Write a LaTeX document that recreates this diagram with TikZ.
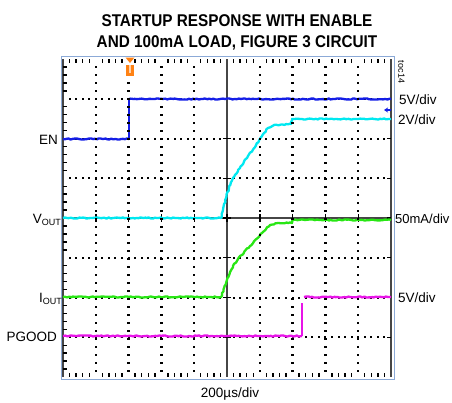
\documentclass[tikz,border=0pt]{standalone}
\usepackage{fontspec}
\setmainfont{Liberation Sans}
\newfontfamily\titlefont[FakeStretch=0.9]{Liberation Sans}
\usetikzlibrary{decorations.pathmorphing,arrows.meta}

\definecolor{enblue}{RGB}{20,30,230}
\definecolor{voutcyan}{RGB}{0,232,240}
\definecolor{ioutgreen}{RGB}{40,230,20}
\definecolor{pgmag}{RGB}{232,20,232}
\definecolor{trigorange}{RGB}{255,130,20}
\definecolor{framec}{RGB}{140,170,215}
\definecolor{axisc}{RGB}{70,70,70}

\begin{document}
\begin{tikzpicture}[x=1pt, y=-1pt,
  trace/.style={line width=2.3pt, line join=round, decorate,
    decoration={random steps, segment length=2pt, amplitude=0.6pt}},
  axisline/.style={axisc, line width=1.3pt},
  tck/.style={black, line width=1.4pt},
  lbl/.style={font=\fontsize{13.5}{16}\selectfont, inner sep=0pt},
  ttl/.style={font=\titlefont\bfseries\fontsize{17}{19}\selectfont, inner sep=0pt, anchor=base}]
\useasboundingbox (0,0) rectangle (452,402);
\pgfmathsetseed{14}

% title
\node[ttl] (t1) at (237,26) {STARTUP RESPONSE WITH ENABLE};
\node[ttl] (t2) at (237,47) {AND 100mA LOAD, FIGURE 3 CIRCUIT};

% screen
\draw[framec, line width=0.9pt] (61,56) rectangle (394,379);

% dotted grid, rows
\foreach \gy in {98.75,138.5,178.25,257.75,297.5,337.25}
  \foreach \gx in {63,69.56,...,391.5}
    \fill[black] (\gx-1,\gy-1) rectangle (\gx+1,\gy+1);

\draw[axisline] (63,59) -- (63,377);
\draw[axisline] (391,59) -- (391,377);
\draw[axisline] (227,59) -- (227,377);
\draw[axisline] (63,218) -- (391,218);

% minor ticks
\foreach \i in {0,...,9}
  \foreach \m in {1,2,3,4} {
    \draw[tck] ({63+\i*32.8+\m*6.56},59) -- ({63+\i*32.8+\m*6.56},63);
    \draw[tck] ({63+\i*32.8+\m*6.56},373) -- ({63+\i*32.8+\m*6.56},377);
  }
\foreach \j in {0,...,7}
  \foreach \m in {1,2,3,4}
    \draw[tck] (63,{59+\j*39.75+\m*7.95}) -- (67,{59+\j*39.75+\m*7.95});
\foreach \j in {1,...,7} {
  \draw[tck] (387,{59+\j*39.75}) -- (391,{59+\j*39.75});
  \draw[tck] (223,{59+\j*39.75}) -- (231,{59+\j*39.75});
}
\foreach \i in {1,...,9}
  \draw[tck] ({63+\i*32.8},214) -- ({63+\i*32.8},222);

% traces
\draw[trace, pgmag] (63,336) -- (302,336);
\draw[trace, pgmag] (304,297) -- (391,297);
\draw[pgmag, line width=1.5pt] (302,303) -- (302,336);
\draw[trace, ioutgreen] (63,297) -- (221,297) -- (224,288) -- (227,280) -- (233,266)
  -- (238,259) -- (250,246) -- (262,233) -- (270,225) -- (278,223) -- (292,223)
  -- (293,220) -- (391,220);
\draw[trace, voutcyan] (63,218) -- (221,218) -- (223,210) -- (226,198) -- (229,188)
  -- (233,178) -- (240,168) -- (248,156) -- (256,145) -- (262,136) -- (268,128)
  -- (274,125) -- (291,124) -- (292,119) -- (391,119);
\draw[trace, enblue] (63,139) -- (129,139);
\draw[enblue, line width=1.6pt] (129,139) -- (129,99);
\draw[trace, enblue] (129,99) -- (391,99);

% dotted grid, columns
\foreach \gx in {95.8,128.6,161.4,194.2,259.8,292.6,325.4,358.2}
  \foreach \gy in {67,75,...,371}
    \fill[black] (\gx-1.2,\gy-1.2) rectangle (\gx+1.2,\gy+1.2);

% markers
\fill[trigorange] (125.5,57.5) -- (134.5,57.5) -- (130,63) -- cycle;
\fill[trigorange] (126,65) rectangle (134,76);
\fill[trigorange!35] (129.2,65) rectangle (130.8,73);
\draw[enblue, line width=1.4pt, -{Stealth[length=4pt,width=5pt]}] (391,110) -- (384,110);

% channel labels
\node[lbl, anchor=base east] (en) at (58,144) {EN};
\node[lbl, anchor=base east] (vout) at (61,223) {V\raisebox{-0.3ex}{\fontsize{9}{9}\selectfont OUT}};
\node[lbl, anchor=base east] (iout) at (62,302) {I\raisebox{-0.3ex}{\fontsize{9}{9}\selectfont OUT}};
\node[lbl, anchor=base east] (pgood) at (57,341) {PGOOD};

\node[lbl, anchor=base west] (sc1) at (399,104) {5V/div};
\node[lbl, anchor=base west] (sc2) at (398,124) {2V/div};
\node[lbl, anchor=base west, font=\fontsize{13}{16}\selectfont] (sc3) at (395,223) {50mA/div};
\node[lbl, anchor=base west] (sc4) at (398,302) {5V/div};
\node[font=\fontsize{9}{10}\selectfont, inner sep=0pt, rotate=-90] (toc) at (401.5,72) {toc14};

\node[lbl, anchor=base] (tdiv) at (230,397) {200µs/div};
\end{tikzpicture}
\end{document}
